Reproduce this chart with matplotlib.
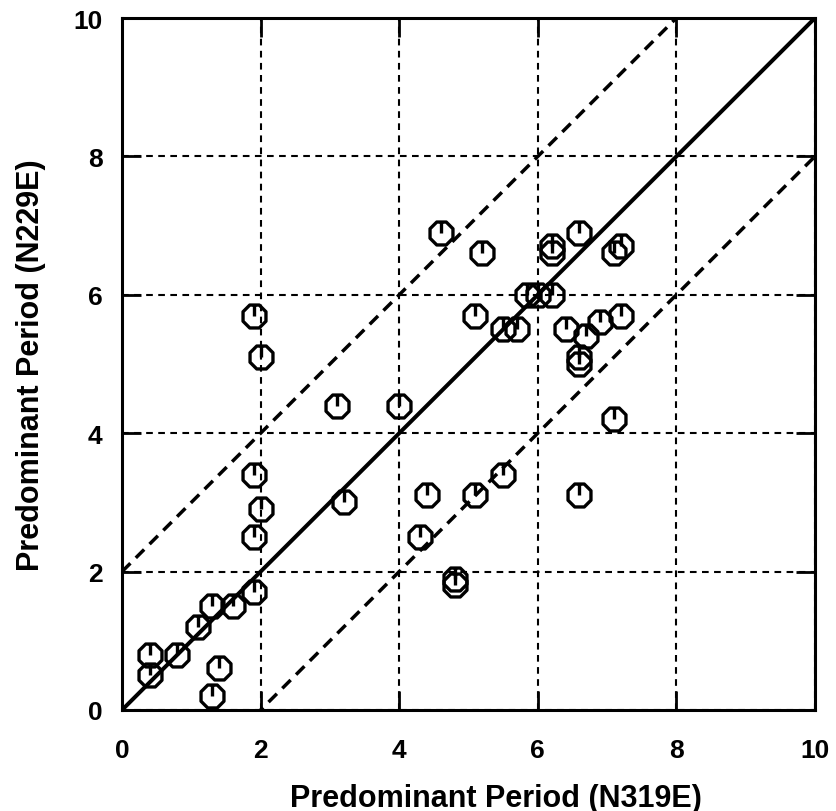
import numpy as np
import matplotlib
matplotlib.use("Agg")
import matplotlib.pyplot as plt
from matplotlib.path import Path

# 卓越周期の読み取り値
x_n319e = [0.4, 0.4, 0.8, 1.1, 1.3, 1.6, 1.9, 1.4, 1.3,
           1.9, 2.0, 1.9, 1.9, 2.0, 3.1, 3.2, 4.0,
           4.3, 4.4, 4.8, 4.8, 5.1, 5.5, 6.6,
           4.6, 5.2, 6.2, 6.2, 6.6, 7.1, 7.2,
           5.85, 6.0, 6.2, 5.1, 5.5, 5.7, 6.4, 6.7, 6.9, 7.2, 6.6, 6.6, 7.1]
y_n229e = [0.5, 0.8, 0.8, 1.2, 1.5, 1.5, 1.7, 0.6, 0.2,
           2.5, 2.9, 3.4, 5.7, 5.1, 4.4, 3.0, 4.4,
           2.5, 3.1, 1.9, 1.8, 3.1, 3.4, 3.1,
           6.9, 6.6, 6.7, 6.6, 6.9, 6.6, 6.7,
           6.0, 6.0, 6.0, 5.7, 5.5, 5.5, 5.5, 5.4, 5.6, 5.7, 5.1, 5.0, 4.2]

ticks = [0, 2, 4, 6, 8, 10]
ref_line = [0, 10]

plt.rcParams["font.family"] = ["Liberation Sans", "DejaVu Sans"]
plt.rcParams["font.weight"] = "bold"

# 八角形＋上の縦棒のマーカー
ang = np.deg2rad(22.5 + 45 * np.arange(8))
verts = [(np.cos(a), np.sin(a)) for a in ang] + [(np.cos(ang[0]), np.sin(ang[0]))]
codes = [Path.MOVETO] + [Path.LINETO] * 7 + [Path.CLOSEPOLY]
verts += [(0, np.sin(ang[1])), (0, 0.0)]
codes += [Path.MOVETO, Path.LINETO]
marker = Path(verts, codes)

fig = plt.figure(figsize=(8.37, 8.12), dpi=100)
ax = fig.add_axes([0.1458, 0.1244, 0.8279, 0.8522])

ax.plot(ref_line, ref_line, color="black", lw=2.9, zorder=2)
ax.plot(ref_line, [v + 2 for v in ref_line], color="black", lw=2.5, ls=(0, (3.4, 2.2)), zorder=2)
ax.plot(ref_line, [v - 2 for v in ref_line], color="black", lw=2.5, ls=(0, (3.4, 2.2)), zorder=2)

ax.plot(x_n319e, y_n229e, ls="none", marker=marker, markersize=16.5,
        markerfacecolor="none", markeredgecolor="black", markeredgewidth=2.4, zorder=3)

ax.set_xlim(0, 10)
ax.set_ylim(0, 10)
ax.set_xticks(ticks)
ax.set_yticks(ticks)
ax.grid(True, color="black", lw=1.5, ls=(0, (3.2, 2.6)))
ax.tick_params(direction="in", length=14, width=2.0, top=True, right=True,
               labelsize=19, pad=14)
ax.tick_params(axis="x", pad=20)
for s in ax.spines.values():
    s.set_linewidth(2.2)

ax.set_xlabel("Predominant Period (N319E)", fontsize=22, fontweight="bold")
ax.set_ylabel("Predominant Period (N229E)", fontsize=22, fontweight="bold")
ax.xaxis.set_label_coords(0.54, -0.105)
ax.yaxis.set_label_coords(-0.11, 0.5)

plt.savefig("out.png", dpi=100)
